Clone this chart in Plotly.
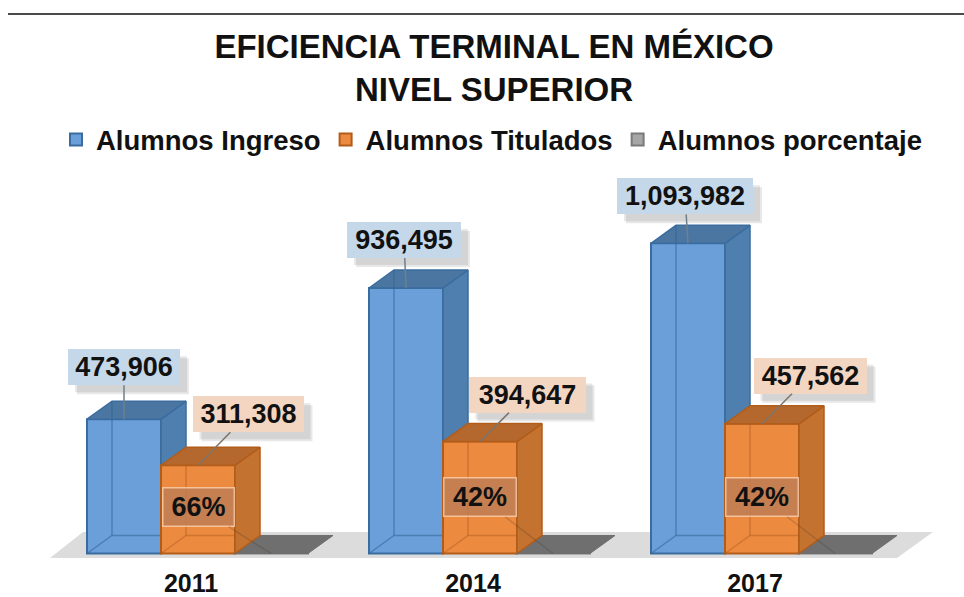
import plotly.graph_objects as go

# ---- data ----
years = ["2011", "2014", "2017"]
ingreso = [473906, 936495, 1093982]
titulados = [311308, 394647, 457562]
porcentaje = [66, 42, 42]
series_names = ["Alumnos Ingreso", "Alumnos Titulados", "Alumnos porcentaje"]
title_lines = ["EFICIENCIA TERMINAL EN MÉXICO", "NIVEL SUPERIOR"]

# ---- geometry / style ----
W, H = 964, 597
BASE_PX, PLOT_BOTTOM = 553.5, 558
K = 0.0002835           # px per student
UNIT = 282              # px per category
ORIGIN = 191            # px of the first category
BAR_W = 74 / UNIT
OFF = {"i": (87 - 191) / UNIT, "t": (161 - 191) / UNIT, "p": (234 - 191) / UNIT}
DX, DY = 25 / UNIT, 18 / K
FONT = "Liberation Sans"
BLUE = dict(front="#6a9fd9", side="#4f7fae", top="#4a76a1", edge="#3b6c9f", wire="rgba(50,100,150,0.55)")
ORANGE = dict(front="#ec8a40", side="#c4722f", top="#b5682d", edge="#b25c1a", wire="rgba(170,90,30,0.45)")
GREY = dict(front="#a6a6a6", top="#6f6f6f", edge="#7a7a7a")

X_RANGE = [-ORIGIN / UNIT, (W - ORIGIN) / UNIT]
Y_RANGE = [-(PLOT_BOTTOM - BASE_PX) / K, BASE_PX / K]


def poly(xs, ys, fill, line, axes, width=1.5):
    return go.Scatter(x=xs, y=ys, mode="lines", fill="toself", fillcolor=fill,
                      line=dict(color=line, width=width), showlegend=False,
                      hoverinfo="skip", xaxis=axes[0], yaxis=axes[1])


def faces(i, off, v, c, axes):
    x0, x1 = i + off, i + off + BAR_W
    return [
        poly([x1, x1 + DX, x1 + DX, x1, x1], [0, DY, v + DY, v, 0], c["side"], c["edge"], axes),
        poly([x0, x0 + DX, x1 + DX, x1, x0], [v, v + DY, v + DY, v, v], c["top"], c["edge"], axes),
    ]


def wire(i, off, v, c, axes):
    x0, x1 = i + off, i + off + BAR_W
    return go.Scatter(x=[x0 + DX, x0 + DX, None, x0, x0 + DX, x1 + DX],
                      y=[v + DY, DY, None, 0, DY, DY], mode="lines",
                      line=dict(color=c["wire"], width=1.5), showlegend=False,
                      hoverinfo="skip", xaxis=axes[0], yaxis=axes[1])


fig = go.Figure()
idx = list(range(len(years)))
A1, A2 = ("x", "y"), ("x2", "y2")

fig.add_trace(go.Bar(x=idx, y=ingreso, name=series_names[0], width=BAR_W, offset=OFF["i"],
                     marker=dict(color=BLUE["front"], line=dict(color=BLUE["edge"], width=2)),
                     hoverinfo="skip"))
for i, v in zip(idx, ingreso):
    fig.add_trace(faces(i, OFF["i"], v, BLUE, A1)[0])
    fig.add_trace(faces(i, OFF["i"], v, BLUE, A1)[1])
    fig.add_trace(wire(i, OFF["i"], v, BLUE, A1))

fig.add_trace(go.Bar(x=idx, y=titulados, name=series_names[1], width=BAR_W, offset=OFF["t"],
                     marker=dict(color=ORANGE["front"], line=dict(color=ORANGE["edge"], width=2)),
                     xaxis="x2", yaxis="y2", hoverinfo="skip"))
fig.add_trace(go.Bar(x=idx, y=porcentaje, name=series_names[2], width=BAR_W, offset=OFF["p"],
                     marker=dict(color=GREY["front"], line=dict(color=GREY["edge"], width=2)),
                     xaxis="x2", yaxis="y2", hoverinfo="skip"))
for i, v in zip(idx, porcentaje):
    x0, x1 = i + OFF["p"], i + OFF["p"] + BAR_W
    fig.add_trace(poly([x0, x0 + DX, x1 + DX, x1, x0], [v, v + DY, v + DY, v, v],
                       GREY["top"], GREY["top"], A2, 1))
for i, v in zip(idx, titulados):
    fig.add_trace(wire(i, OFF["t"], v, ORANGE, A2))
    fig.add_trace(faces(i, OFF["t"], v, ORANGE, A2)[0])
    fig.add_trace(faces(i, OFF["t"], v, ORANGE, A2)[1])

# floor, below everything
fl_b = -(PLOT_BOTTOM - BASE_PX) / K
fl_t = (BASE_PX - 532) / K
fl_x = lambda px: (px - ORIGIN) / UNIT
shapes = [dict(type="path", layer="below", line=dict(width=0), fillcolor="#dcdcdc",
               path=f"M {fl_x(50)} {fl_b} L {fl_x(83)} {fl_t} L {fl_x(933)} {fl_t} L {fl_x(897)} {fl_b} Z"),
          dict(type="line", xref="paper", yref="paper", x0=8 / W, x1=1, y0=1 - 14 / PLOT_BOTTOM,
               y1=1 - 14 / PLOT_BOTTOM, line=dict(color="#4a4a4a", width=2))]
annotations = []

LABEL_FONT = dict(family=FONT, size=27, color="#111111", weight=700)
# (ax, ay, width) offsets of each value label from its bar top, px
ing_off = [(0, -52, 112), (-2, -48, 114), (-3, -47, 136)]
tit_off = [(50, -51, 111), (47, -47, 117), (48, -48, 113)]
pct_off = [(-73, -46, 70), (-73, -56, 71), (-73, -56, 71)]


def value_label(x, y, text, off, bg, arrow):
    ax, ay, w = off
    h = 36
    for d, alpha in ((9, 0.14), (7, 0.14)):
        shapes.append(dict(type="rect", layer="above", line=dict(width=0),
                           fillcolor=f"rgba(90,90,90,{alpha})", xsizemode="pixel", ysizemode="pixel",
                           xanchor=x, yanchor=y,
                           x0=ax - w / 2 + d, x1=ax + w / 2 + d,
                           y0=-ay - h / 2 - d, y1=-ay + h / 2 - d))
    annotations.append(dict(x=x, y=y, xref="x", yref="y", ax=ax, ay=ay, text=text, font=LABEL_FONT,
                            showarrow=True, arrowhead=0, arrowwidth=1.5, arrowcolor=arrow,
                            bgcolor=bg, width=w, height=h, borderpad=0, borderwidth=0))


for i in idx:
    value_label(i + OFF["i"] + BAR_W / 2, ingreso[i], f"{ingreso[i]:,}", ing_off[i], "#c5d8ea", "#6f7f8c")
    value_label(i + OFF["t"] + BAR_W / 2, titulados[i], f"{titulados[i]:,}", tit_off[i], "#f3d6c2", "#7f7468")
    ax, ay, w = pct_off[i]
    annotations.append(dict(x=i + OFF["p"] + BAR_W / 2, y=porcentaje[i], xref="x", yref="y", ax=ax, ay=ay,
                            text=f"{porcentaje[i]}%", font=LABEL_FONT, showarrow=True, arrowhead=0,
                            arrowwidth=1.5, arrowcolor="rgba(70,50,40,0.22)",
                            bgcolor="rgba(190,125,85,0.85)", bordercolor="rgba(255,215,180,0.75)",
                            borderwidth=1.5, borderpad=0, width=w, height=37))

fig.update_layout(
    width=W, height=H, margin=dict(l=0, r=0, t=0, b=H - PLOT_BOTTOM, pad=0),
    paper_bgcolor="white", plot_bgcolor="rgba(0,0,0,0)", barmode="overlay",
    title=dict(text="<br>".join(title_lines), x=494 / W, xanchor="center", y=1 - 58 / H, yanchor="top",
               font=dict(family=FONT, size=33, color="#111111", weight=700)),
    legend=dict(orientation="h", x=56 / W, xanchor="left", y=1 - 115 / PLOT_BOTTOM, yanchor="top",
                font=dict(family=FONT, size=27.5, color="#111111", weight=700),
                bgcolor="rgba(0,0,0,0)", traceorder="normal"),
    xaxis=dict(range=X_RANGE, tickvals=idx, ticktext=years, showgrid=False, zeroline=False, showline=False,
               ticks="", ticklabelstandoff=8, fixedrange=True, automargin=False,
               tickfont=dict(family=FONT, size=25, color="#111111", weight=700)),
    yaxis=dict(range=Y_RANGE, visible=False, fixedrange=True, automargin=False),
    xaxis2=dict(range=X_RANGE, overlaying="x", anchor="y2", visible=False, fixedrange=True, automargin=False),
    yaxis2=dict(range=Y_RANGE, overlaying="y", anchor="x2", visible=False, fixedrange=True, automargin=False),
    shapes=shapes, annotations=annotations, showlegend=True,
)
fig.write_html("out.html", config=dict(displayModeBar=False), post_script="document.body.style.margin='0';")
